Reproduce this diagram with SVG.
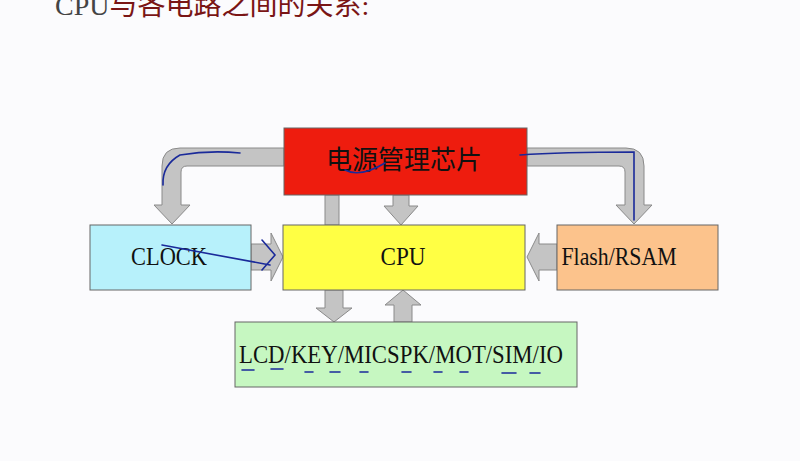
<svg xmlns="http://www.w3.org/2000/svg" width="800" height="461" viewBox="0 0 800 461">
<style>
.box{stroke:#666;stroke-width:1}
.arr{fill:#c4c4c4;stroke:#8a8a8a;stroke-width:1}
.t{font-family:"Liberation Serif","Noto Sans CJK SC",serif;font-size:26px;fill:#111;text-anchor:middle}
.ink{fill:none;stroke:#1a2a9a;stroke-width:1.6;stroke-linecap:round}
</style>
<rect width="800" height="461" fill="#fbfbfd"/>
<text x="55" y="15" font-family="Liberation Serif,'Noto Sans CJK SC',serif" font-size="28" fill="#7a1515"><tspan fill="#444">CPU</tspan>与各电路之间的关系:</text>
<g id="connectors">
<path class="arr" d="M284,148 H180 Q162,148 162,166 V205 H154 L172,224 L190,205 H181 V172 Q181,166 187,166 H284 Z"/>
<path class="arr" d="M527,148 H626 Q644,148 644,166 V205 H652 L634,224 L616,205 H625 V172 Q625,166 619,166 H527 Z"/>
<rect class="arr" x="325" y="195" width="14" height="30"/>
<path class="arr" d="M393,195 H409 V206 H418 L401,225 L384,206 H393 Z"/>
<path class="arr" d="M251,244 H271 V233 L283,257 L271,281 V270 H251 Z"/>
<path class="arr" d="M557,244 H539 V233 L527,257 L539,281 V270 H557 Z"/>
<path class="arr" d="M325,290 H343 V308 H352 L334,322 L316,308 H325 Z"/>
<path class="arr" d="M394,322 H412 V305 H421 L403,290 L385,305 H394 Z"/>
</g>
<g id="power"><rect class="box" x="284" y="128" width="243" height="67" fill="#ee1c0e"/><text class="t" x="404" y="169" font-size="22" fill="#5a0a0a">电源管理芯片</text></g>
<g id="cpu"><rect class="box" x="283" y="225" width="242" height="65" fill="#ffff44"/><text class="t" x="403" y="265" textLength="45" lengthAdjust="spacingAndGlyphs">CPU</text></g>
<g id="clock"><rect class="box" x="90" y="225" width="161" height="65" fill="#b7f1fb"/><text class="t" x="169" y="265" textLength="76" lengthAdjust="spacingAndGlyphs">CLOCK</text></g>
<g id="flash"><rect class="box" x="557" y="225" width="161" height="65" fill="#fcc38c"/><text class="t" x="619" y="265" textLength="115" lengthAdjust="spacingAndGlyphs">Flash/RSAM</text></g>
<g id="io"><rect class="box" x="235" y="322" width="342" height="65" fill="#c6f7c1"/><text class="t" x="401" y="363" textLength="324" lengthAdjust="spacingAndGlyphs">LCD/KEY/MICSPK/MOT/SIM/IO</text></g>
<g id="ink">
<path class="ink" d="M163,185 Q162,165 180,155 Q210,150 240,153"/>
<path class="ink" d="M345,170 Q360,178 385,163"/>
<path class="ink" d="M520,155 Q560,152 634,152 V220"/>
<path class="ink" d="M162,245 L270,265 M262,240 L275,255 L262,270"/>
<path class="ink" d="M242,370 h12 M271,369 h12 M305,372 h8 M330,372 h10 M360,372 h8 M402,372 h9 M434,372 h8 M460,372 h8 M502,373 h14 M530,373 h10"/>
</g>
</svg>
